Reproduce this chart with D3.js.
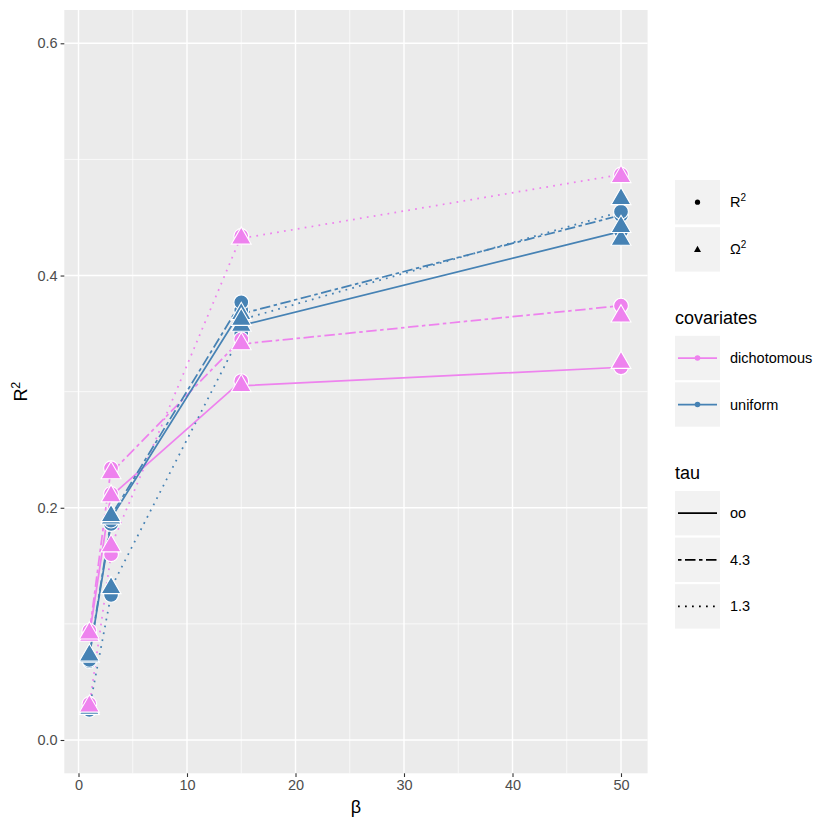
<!DOCTYPE html>
<html><head><meta charset="utf-8">
<script src="https://cdn.jsdelivr.net/npm/d3@7"></script>
<style>body{margin:0;background:#fff} text{font-family:"Liberation Sans", Arial, Helvetica, sans-serif}</style>
</head><body><svg id="c" width="830" height="830"></svg>
<script>
// ---- data ----
const beta = [1, 3, 15, 50];
const covariates = ["dichotomous", "uniform"];
const tauLevels = ["oo", "4.3", "1.3"];
const measures = ["R2", "O2"];
// R2 and Omega2 at each beta, per covariates x tau
const dichotomous_oo_R2  = [0.092, 0.212, 0.309, 0.321];
const dichotomous_oo_O2  = [0.090, 0.210, 0.305, 0.325];
const dichotomous_43_R2  = [0.094, 0.234, 0.345, 0.374];
const dichotomous_43_O2  = [0.092, 0.230, 0.341, 0.365];
const dichotomous_13_R2  = [0.031, 0.160, 0.434, 0.487];
const dichotomous_13_O2  = [0.029, 0.167, 0.432, 0.485];
const uniform_oo_R2 = [0.068, 0.186, 0.370, 0.438];
const uniform_oo_O2 = [0.072, 0.191, 0.357, 0.431];
const uniform_43_R2 = [0.069, 0.189, 0.377, 0.452];
const uniform_43_O2 = [0.073, 0.193, 0.367, 0.442];
const uniform_13_R2 = [0.026, 0.125, 0.350, 0.455];
const uniform_13_O2 = [0.027, 0.131, 0.362, 0.466];
const xTicks = [0, 10, 20, 30, 40, 50];
const yTicks = [0.0, 0.2, 0.4, 0.6];

const table = {
  dichotomous: {"oo": [dichotomous_oo_R2, dichotomous_oo_O2], "4.3": [dichotomous_43_R2, dichotomous_43_O2], "1.3": [dichotomous_13_R2, dichotomous_13_O2]},
  uniform: {"oo": [uniform_oo_R2, uniform_oo_O2], "4.3": [uniform_43_R2, uniform_43_O2], "1.3": [uniform_13_R2, uniform_13_O2]}
};

// ---- styles ----
const colors = {dichotomous: "#EE82EE", uniform: "#4682B4"};
const dashes = {"oo": null, "4.3": "3.5 3.5 10.5 3.5", "1.3": "1.75 5.25"};
const svg = d3.select("#c");
const P = {l: 64.3, r: 647.6, t: 10, b: 773.3};
const x = d3.scaleLinear().domain([1, 50]).range([89.35, 621]);
const y = d3.scaleLinear().domain([0, 0.6]).range([740, 43.3]);

// panel
svg.append("rect").attr("x", P.l).attr("y", P.t).attr("width", P.r - P.l).attr("height", P.b - P.t).attr("fill", "#EBEBEB");
const g = svg.append("g");
// minor grid
const xMinor = d3.range(5, 50, 10), yMinor = [0.1, 0.3, 0.5];
g.selectAll(".xm").data(xMinor).enter().append("line").attr("x1", d => x(d)).attr("x2", d => x(d)).attr("y1", P.t).attr("y2", P.b).attr("stroke", "#fff").attr("stroke-width", 0.7);
g.selectAll(".ym").data(yMinor).enter().append("line").attr("y1", d => y(d)).attr("y2", d => y(d)).attr("x1", P.l).attr("x2", P.r).attr("stroke", "#fff").attr("stroke-width", 0.7);
g.selectAll(".xM").data(xTicks).enter().append("line").attr("x1", d => x(d)).attr("x2", d => x(d)).attr("y1", P.t).attr("y2", P.b).attr("stroke", "#fff").attr("stroke-width", 1.4);
g.selectAll(".yM").data(yTicks).enter().append("line").attr("y1", d => y(d)).attr("y2", d => y(d)).attr("x1", P.l).attr("x2", P.r).attr("stroke", "#fff").attr("stroke-width", 1.4);

// axes
const xAxis = d3.axisBottom(x).tickValues(xTicks).tickSize(3.7).tickPadding(3).tickFormat(d3.format("d"));
const yAxis = d3.axisLeft(y).tickValues(yTicks).tickSize(3.7).tickPadding(3).tickFormat(d3.format(".1f"));
const gx = svg.append("g").attr("transform", `translate(0,${P.b})`).call(xAxis);
const gy = svg.append("g").attr("transform", `translate(${P.l},0)`).call(yAxis);
[gx, gy].forEach(a => {
  a.select(".domain").remove();
  a.selectAll(".tick line").attr("stroke", "#333333").attr("stroke-width", 1.1);
  a.selectAll(".tick text").attr("fill", "#4D4D4D").style("font-size", "14.5px").style("font-family", "Liberation Sans, Arial, sans-serif");
});

// lines
const lineGen = d3.line().x(d => x(d[0])).y(d => y(d[1]));
covariates.forEach(cv => {
  tauLevels.forEach(t => {
    const [r2, o2] = table[cv][t];
    const pts = [];
    beta.forEach((b, i) => { pts.push([b, r2[i]]); pts.push([b, o2[i]]); });
    g.append("path").attr("d", lineGen(pts)).attr("fill", "none").attr("stroke", colors[cv]).attr("stroke-width", 1.75)
      .attr("stroke-dasharray", dashes[t]);
  });
});

// points
const R = 7.4;
const triPath = (s) => { const r = 1.555 * s, xc = 1.347 * s, yc = 0.778 * s; return `M0,${-r}L${xc},${yc}L${-xc},${yc}Z`; };
["R2", "O2"].forEach((m, mi) => {
  ["uniform", "dichotomous"].forEach(cv => {
    tauLevels.forEach(t => {
      const vals = table[cv][t][mi];
      const sel = g.selectAll(null).data(beta.map((b, i) => [b, vals[i]])).enter();
      if (m === "R2") {
        sel.append("circle").attr("cx", d => x(d[0])).attr("cy", d => y(d[1])).attr("r", R)
          .attr("fill", colors[cv]).attr("stroke", "#fff").attr("stroke-width", 1.1);
      } else {
        sel.append("path").attr("transform", d => `translate(${x(d[0])},${y(d[1])})`).attr("d", triPath(R))
          .attr("fill", colors[cv]).attr("stroke", "#fff").attr("stroke-width", 1.1);
      }
    });
  });
});

// axis titles
svg.append("text").attr("x", (P.l + P.r) / 2).attr("y", 813).attr("text-anchor", "middle").style("font-size", "18px").attr("fill", "#000").text("β");
const yt = svg.append("text").attr("transform", `translate(27,${(P.t + P.b) / 2}) rotate(-90)`).attr("text-anchor", "middle").style("font-size", "18px").attr("fill", "#000");
yt.append("tspan").text("R");
yt.append("tspan").attr("dy", -7).style("font-size", "12.5px").text("2");

// legends
const KX = 675, KW = 45, KH = 44.4;
function keyBox(yTop) { svg.append("rect").attr("x", KX).attr("y", yTop).attr("width", KW).attr("height", KH).attr("fill", "#F2F2F2"); }
function supLabel(yc, base) {
  const t = svg.append("text").attr("x", 730).attr("y", yc + 5).style("font-size", "14.5px").attr("fill", "#000");
  t.append("tspan").text(base);
  t.append("tspan").attr("dy", -6).style("font-size", "10px").text("2");
}
// shape legend
const shapeTops = [180, 227.2];
const shapeLabels = ["R", "Ω"];
measures.forEach((m, i) => {
  keyBox(shapeTops[i]);
  const cy = shapeTops[i] + KH / 2, cx = KX + KW / 2;
  if (m === "R2") svg.append("circle").attr("cx", cx).attr("cy", cy).attr("r", 2.6).attr("fill", "#000");
  else svg.append("path").attr("transform", `translate(${cx},${cy + 0.5})`).attr("d", triPath(2.6)).attr("fill", "#000");
  supLabel(cy, shapeLabels[i]);
});
// covariates legend
svg.append("text").attr("x", KX).attr("y", 323.5).style("font-size", "18px").attr("fill", "#000").text("covariates");
const covTops = [335.8, 382.3];
covariates.forEach((cv, i) => {
  keyBox(covTops[i]);
  const cy = covTops[i] + KH / 2;
  svg.append("line").attr("x1", 678).attr("x2", 717).attr("y1", cy).attr("y2", cy).attr("stroke", colors[cv]).attr("stroke-width", 1.75);
  svg.append("circle").attr("cx", KX + KW / 2).attr("cy", cy).attr("r", 2.8).attr("fill", colors[cv]);
  svg.append("text").attr("x", 730).attr("y", cy + 5).style("font-size", "14.5px").attr("fill", "#000").text(cv);
});
// tau legend
svg.append("text").attr("x", KX).attr("y", 479).style("font-size", "18px").attr("fill", "#000").text("tau");
const tauTops = [491, 537.6, 584.2];
tauLevels.forEach((t, i) => {
  keyBox(tauTops[i]);
  const cy = tauTops[i] + KH / 2;
  svg.append("line").attr("x1", 678).attr("x2", 717).attr("y1", cy).attr("y2", cy).attr("stroke", "#000").attr("stroke-width", 1.75)
    .attr("stroke-dasharray", dashes[t]);
  svg.append("text").attr("x", 730).attr("y", cy + 5).style("font-size", "14.5px").attr("fill", "#000").text(t);
});
</script></body></html>
